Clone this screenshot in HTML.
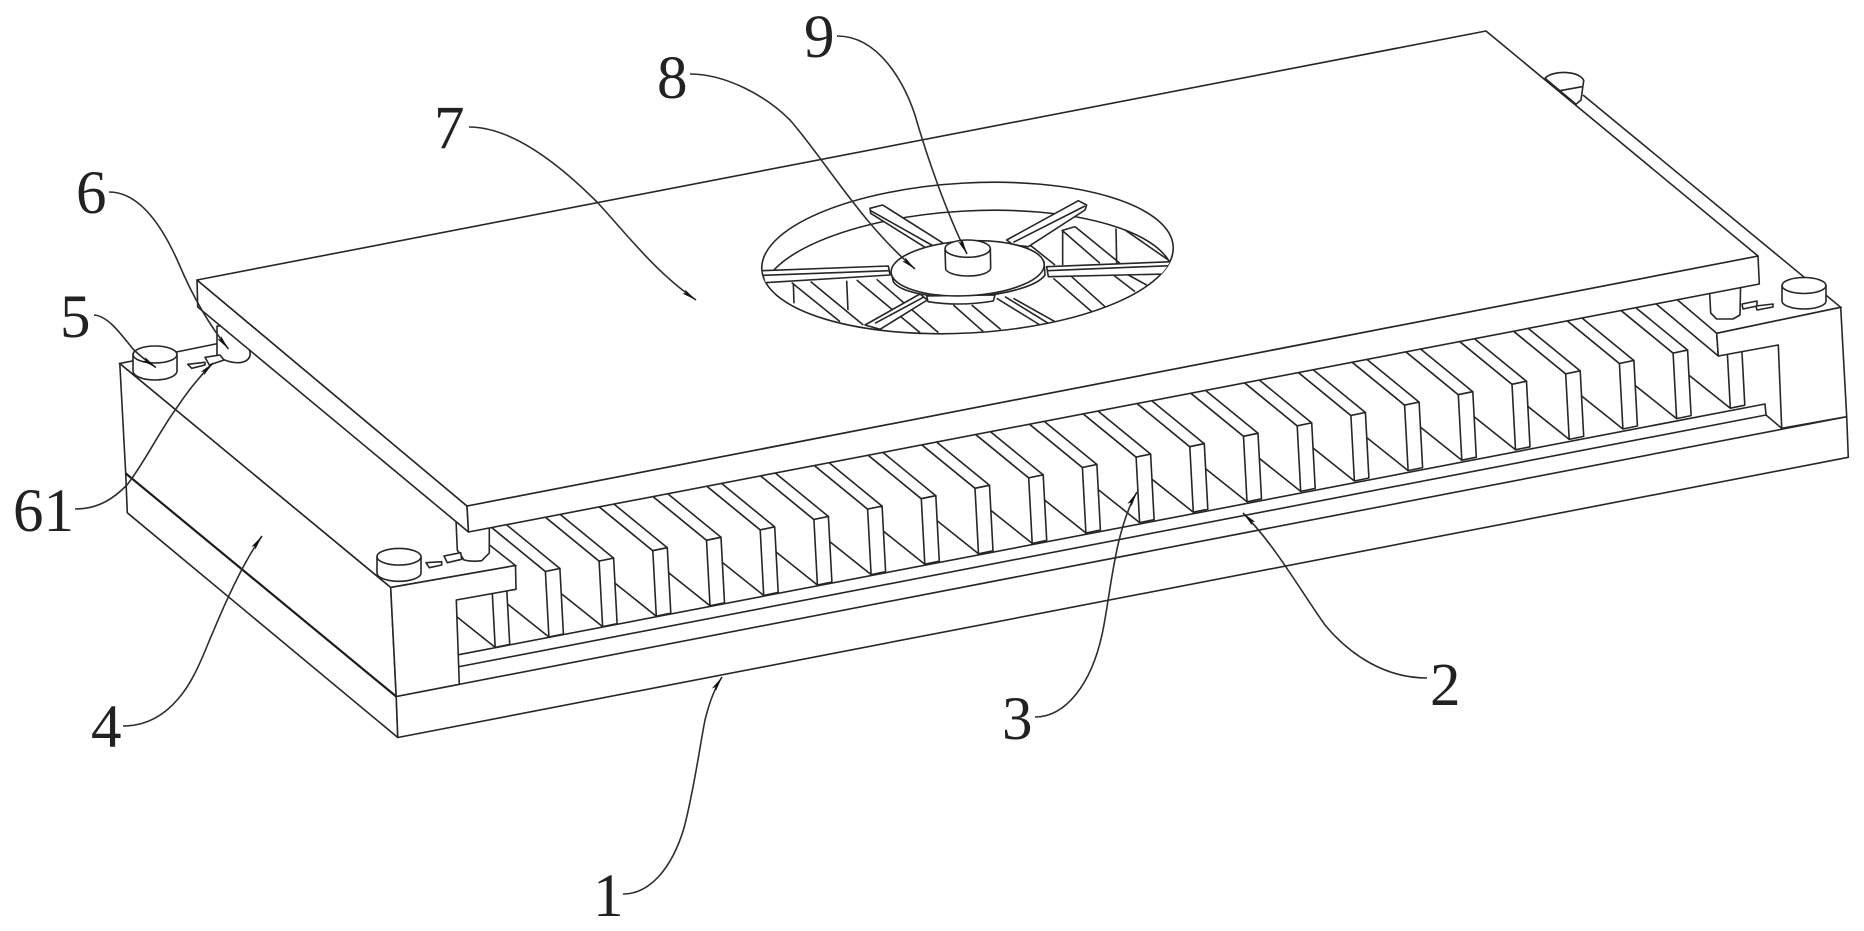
<!DOCTYPE html>
<html><head><meta charset="utf-8"><style>
html,body{margin:0;padding:0;background:#fff;width:1864px;height:931px;overflow:hidden}
svg{display:block}
.s{fill:#fff;stroke:#262626;stroke-width:1.6;stroke-linejoin:round}
.l{fill:none;stroke:#262626;stroke-width:1.6}
.z{fill:#fff;stroke:#262626;stroke-width:4.8;stroke-linejoin:round}
.zl{fill:none;stroke:#262626;stroke-width:4.8}
.ld{fill:none;stroke:#2e2e2e;stroke-width:1.6;marker-end:url(#a)}
text{font-family:"Liberation Serif",serif;font-size:61px;fill:#222}
</style></head><body>
<svg width="1864" height="931" viewBox="0 0 1864 931" xmlns="http://www.w3.org/2000/svg">
<defs>
<marker id="a" markerUnits="userSpaceOnUse" markerWidth="18" markerHeight="10" refX="15" refY="5" orient="auto"><path d="M0,2.6 L15,5 L0,7.4 L3,5 Z" fill="#111"/></marker>
<g id="f">
<polygon points="0,0 -60,-49.1 -56.5,17.6 3.5,65.5" fill="#fff"/>
<polyline class="l" points="-60,-49.1 0,0"/>
<polyline class="l" points="-56.5,17.6 3.5,65.5"/>
<polygon class="s" points="0,0 14.5,-3 -45.5,-52.1 -60,-49.1"/>
<polygon class="s" points="0,0 14.5,-3 18,62.5 3.5,65.5"/>
</g>
<clipPath id="h"><ellipse cx="742.5" cy="774" rx="618" ry="225" transform="rotate(-3.2 742.5 774)"/></clipPath>
</defs>

<!-- left side of base -->
<polygon class="s" points="119.8,363.5 390.7,587.4 396.2,696.5 397.8,737.5 127.3,512.8 125.7,473.4"/>
<line x1="125.7" y1="473.4" x2="396.2" y2="696.5" stroke="#1c1c1c" stroke-width="2.2"/>

<!-- fins, right to left -->
<g transform="translate(545.4 571.5)">
<use href="#f" x="1181.4" y="-228.8"/>
<use href="#f" x="1127.7" y="-218.4"/>
<use href="#f" x="1074" y="-208"/>
<use href="#f" x="1020.3" y="-197.6"/>
<use href="#f" x="966.6" y="-187.2"/>
<use href="#f" x="912.9" y="-176.8"/>
<use href="#f" x="859.2" y="-166.4"/>
<use href="#f" x="805.5" y="-156"/>
<use href="#f" x="751.8" y="-145.6"/>
<use href="#f" x="698.1" y="-135.2"/>
<use href="#f" x="644.4" y="-124.8"/>
<use href="#f" x="590.7" y="-114.4"/>
<use href="#f" x="537" y="-104"/>
<use href="#f" x="483.3" y="-93.6"/>
<use href="#f" x="429.6" y="-83.2"/>
<use href="#f" x="375.9" y="-72.8"/>
<use href="#f" x="322.2" y="-62.4"/>
<use href="#f" x="268.5" y="-52"/>
<use href="#f" x="214.8" y="-41.6"/>
<use href="#f" x="161.1" y="-31.2"/>
<use href="#f" x="107.4" y="-20.8"/>
<use href="#f" x="53.7" y="-10.4"/>
<use href="#f" x="0" y="0"/>
<use href="#f" x="-53.7" y="10.4"/>
</g>

<!-- rail and base front -->
<polygon fill="#fff" points="458,654.8 1765,404 1766,415 1781.7,428.3 458.7,684"/>
<polygon class="s" points="458,654.8 1765,404 1766,415 458,666.9"/>
<line class="l" x1="1766" y1="415" x2="1781.7" y2="428.3"/>
<polygon class="s" points="396.2,696.5 1846.7,416.7 1848.3,457.3 397.8,737.5"/>

<!-- top surfaces of side blocks -->
<polygon fill="#fff" points="119.8,363.5 217.5,343 489.5,530 516,566.4 390.7,587.4"/>
<polyline class="l" points="489.5,545 515.5,565.5 390.7,587.4 119.8,363.5 218,343.5"/>
<polygon fill="#fff" points="1583,95 1840.7,307.3 1716.7,333.3 1676.7,299.3 1500,150"/>
<polyline class="l" points="1583,95 1840.7,307.3 1716.7,333.3 1676.7,299.3"/>
<polygon class="s" points="1716.7,333.3 1718.3,356 1655,303 1676.7,299.3"/>

<!-- block fronts -->
<polygon class="s" points="390.7,587.4 515.5,565.5 516,589.3 456.3,600 459.3,684.3 396.2,696.5"/>
<polygon class="s" points="1716.7,333.3 1840.7,307.3 1846.7,416.7 1781.7,428.3 1778.3,345 1718.3,356"/>

<!-- pillars -->
<path class="s" d="M217,326 L217,355 C221,360 232,363 240,362.7 C247,361.5 251,358 250,351.7 L240,326 Z"/>
<path class="s" d="M456,520 L457.3,550 L464,560 C470,561.5 476,561.5 481.7,560.7 L489.3,553 L489.3,520 Z"/>
<path class="s" d="M1709,280 L1710.7,313 L1716.7,319 L1733,319 L1740,315 L1740.7,280 Z"/>

<!-- tabs -->
<polygon class="s" points="187.7,364.3 205,362.3 205,365 191.7,368.3"/>
<polygon class="s" points="205,357.3 220,355 224,360 209.3,365"/>
<polygon class="s" points="426,562.7 441.7,561.7 441.7,565 429.3,567.7"/>
<polygon class="s" points="444,556 460.7,552.7 461.7,559.3 447.3,562.7"/>
<polygon class="s" points="1742,304 1757,301 1757,306 1743,309"/>
<polygon class="s" points="1756,306 1773,304 1773,307 1757,310"/>

<!-- knobs -->
<path class="s" d="M133,354 L133,371 A22,9 0 0 0 177,371 L177,354 Z"/><ellipse class="s" cx="155" cy="354.5" rx="22" ry="8.5"/>
<path class="s" d="M377,557 L377,573 A22,8.3 0 0 0 421,573 L421,557 Z"/><ellipse class="s" cx="399" cy="556.7" rx="22" ry="8.3"/>
<path class="s" d="M1782,285.5 L1782,301 A22,8 0 0 0 1826,301 L1826,285.5 Z"/><ellipse class="s" cx="1804" cy="285.5" rx="22" ry="8"/>
<path class="s" d="M1545,78.3 A20,9 0 0 1 1583.3,83.3 L1581,100 L1576,104.3 Z"/>
<line class="l" x1="1560" y1="90.7" x2="1582" y2="86.7"/>

<!-- plate -->
<polygon class="s" points="197,280 467,506 468.5,532 197.7,307"/>
<polygon class="s" points="467,506 1758,256 1759.3,284 468.5,532"/>
<polygon class="s" points="197,280 1486,31 1758,256 467,506"/>

<!-- fan opening -->
<g transform="translate(720 0) scale(.33333)">
<ellipse class="z" cx="742.5" cy="774" rx="618" ry="225" transform="rotate(-3.2 742.5 774)"/>
<g clip-path="url(#h)">
<path class="zl" d="M215,848L360,965M272,845L430,975M410,840L600,998M470,838L655,998M700,915L790,995M755,915L842,988M880,895L1005,965M830,895L960,975M855,890L985,970M1000,835L1115,935M1055,830L1155,920M1180,825L1245,875M1225,825L1280,855M1025,690L1140,790M1065,680L1200,790M1028,692L1028,795M1188,685L1190,790M1215,690L1345,780M930,735L1005,795M220,850L222,910M380,842L384,930M1025,692L1065,680"/>
<ellipse class="zl" cx="742.5" cy="858" rx="618" ry="225" transform="rotate(-3.2 742.5 858)"/>
<polygon class="z" points="125,812 505,798 510,825 135,848"/>
<line class="zl" x1="130" y1="826" x2="508" y2="812"/>
<polygon class="z" points="980,800 1360,785 1340,822 985,830"/>
<line class="zl" x1="982" y1="812" x2="1350" y2="797"/>
<polygon class="z" points="435,975 600,882 622,900 480,988"/>
<line class="zl" x1="465" y1="970" x2="610" y2="892"/>
</g>
<polygon class="z" points="450,625 488,615 670,730 620,745 452,640"/>
<line class="zl" x1="452" y1="632" x2="640" y2="738"/>
<polygon class="z" points="860,720 1075,602 1100,615 1095,630 925,740 880,735"/>
<line class="zl" x1="880" y1="727" x2="1095" y2="618"/>
<!-- hub -->
<path class="z" d="M513,815 L520,845 A232,68 -3 0 0 975,825 L972,785 Z"/>
<path class="z" d="M620,888 L624,905 Q720,920 820,903 L825,885 Z"/>
<ellipse class="z" cx="743" cy="805" rx="230" ry="82" transform="rotate(-3 743 805)"/>
<path class="z" d="M675,750 L677,808 A68,24 0 0 0 812,805 L811,745 Z"/>
<ellipse class="z" cx="743" cy="746" rx="68" ry="26"/>
</g>

<!-- leaders -->
<path class="ld" d="M837,36 C880,36 905,85 915,115 C925,150 945,210 967,254"/>
<path class="ld" d="M690,74 C725,74 765,95 790,120 C825,160 860,222 915,269"/>
<path class="ld" d="M469,127 C510,127 555,160 597,202 C625,232 655,272 696,300"/>
<path class="ld" d="M109,192 C142,192 165,232 179,264 C190,290 205,320 228.5,349"/>
<path class="ld" d="M94,315 C108,316 120,333 133,349 C140,356 148,362 156,367.5"/>
<path class="ld" d="M75,509 C100,509 115,497 127,485 C145,462 160,430 178,406 C188,391 200,376 213,363"/>
<path class="ld" d="M123,726 C150,726 167,712 178,699 C195,680 205,650 213,632 C228,596 245,560 262,536"/>
<path class="ld" d="M1035,717 C1065,717 1092,685 1103,630 C1111,590 1115,530 1137,492"/>
<path class="ld" d="M1427,678 C1385,678 1350,655 1325,625 C1300,590 1275,545 1243,513"/>
<path class="ld" d="M623,894 C650,894 672,868 684,828 C694,790 700,745 705,720 C710,700 715,688 722,677"/>

<!-- labels -->
<text x="804" y="57">9</text>
<text x="657" y="98">8</text>
<text x="434" y="148">7</text>
<text x="76" y="213">6</text>
<text x="60" y="337">5</text>
<text x="13" y="531">61</text>
<text x="91" y="747">4</text>
<text x="1002" y="739">3</text>
<text x="1430" y="705">2</text>
<text x="593" y="916">1</text>
</svg>
</body></html>
